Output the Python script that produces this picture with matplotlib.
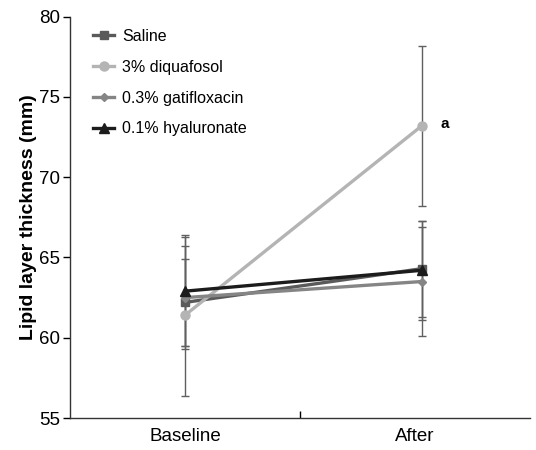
import matplotlib
matplotlib.use("Agg")
import matplotlib.pyplot as plt

plt.rcParams['font.family'] = ['Liberation Sans', 'DejaVu Sans']

categories = ["Baseline", "After"]
series_names = ["Saline", "3% diquafosol", "0.3% gatifloxacin", "0.1% hyaluronate"]
saline = [62.2, 64.3]
saline_err = [2.7, 3.0]
diquafosol = [61.4, 73.2]
diquafosol_err = [5.0, 5.0]
gatifloxacin = [62.5, 63.5]
gatifloxacin_err = [3.2, 3.4]
hyaluronate = [62.9, 64.2]
hyaluronate_err = [3.4, 3.1]

values = [saline, diquafosol, gatifloxacin, hyaluronate]
errors = [saline_err, diquafosol_err, gatifloxacin_err, hyaluronate_err]
colors = ["#5a5a5a", "#b4b4b4", "#858585", "#1c1c1c"]
markers = ["s", "o", "D", "^"]
msizes = [6, 6.5, 4.5, 6.5]

fig = plt.figure(figsize=(5.36, 4.5), dpi=100)
ax = fig.add_axes([0.1306, 0.0711, 0.858, 0.892])

xpos = [0.5, 1.53]
for name, v, e, c, m, ms in zip(series_names, values, errors, colors, markers, msizes):
    ax.errorbar(xpos, v, yerr=e, fmt='none', ecolor="#606060", elinewidth=1.0,
                capsize=3, capthick=1.0, zorder=2)
for name, v, e, c, m, ms in zip(series_names, values, errors, colors, markers, msizes):
    ax.plot(xpos, v, color=c, marker=m, markersize=ms, linewidth=2.4,
            label=name, zorder=3)

ax.text(xpos[1] + 0.1, diquafosol[1] + 0.1, "a", fontsize=11, fontweight='bold',
        ha='center', va='center')

ax.set_xlim(0, 2)
ax.set_ylim(55, 80)
ax.set_yticks([55, 60, 65, 70, 75, 80])
ax.set_xticks([1])
ax.set_xticklabels([])
ax.set_xticks([0.5, 1.5], minor=True)
ax.set_xticklabels(categories, minor=True, fontsize=13.5)
ax.tick_params(axis='x', which='minor', length=0, pad=7)
ax.tick_params(axis='x', which='major', length=5, direction='in', width=1)
ax.tick_params(axis='y', labelsize=13.5, length=5, direction='out', width=1, pad=2)
for s in ['top', 'right']:
    ax.spines[s].set_visible(False)
for s in ['left', 'bottom']:
    ax.spines[s].set_color("#333333")
    ax.spines[s].set_linewidth(1.0)

ax.set_ylabel("Lipid layer thickness (mm)", fontsize=14, fontweight='bold', labelpad=2)

ax.legend(loc='upper left', bbox_to_anchor=(0.016, 1.01), frameon=False, fontsize=11.5,
          handlelength=1.3, labelspacing=1.0, handletextpad=0.5, borderaxespad=0.6)

fig.savefig("out.png", dpi=100)
